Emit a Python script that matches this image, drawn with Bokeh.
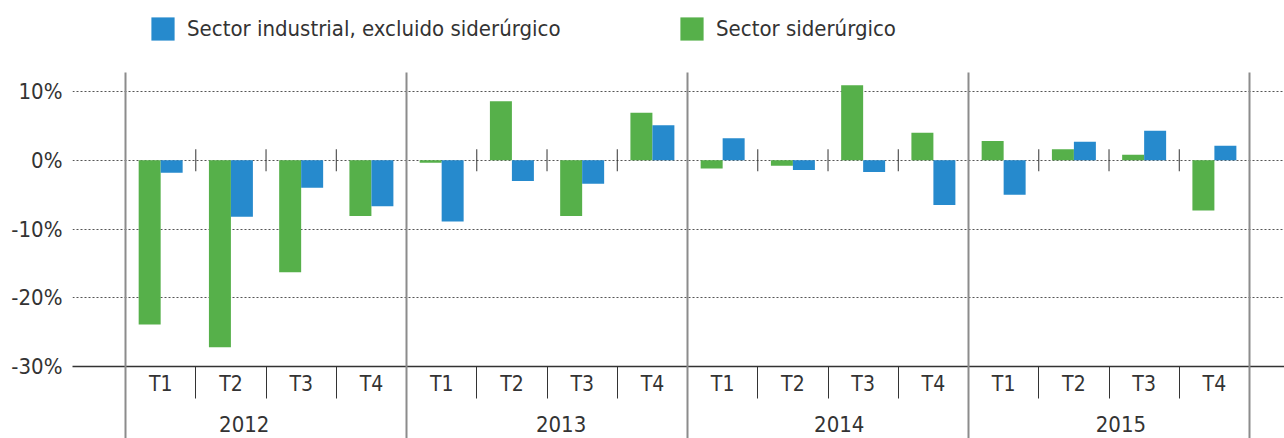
import numpy as np
from bokeh.plotting import figure
from bokeh.models import (Range1d, FixedTicker, LinearAxis, PrintfTickFormatter, Legend,
                          LegendItem, Grid, CustomJSTickFormatter)
from bokeh.embed import file_html
from bokeh.resources import INLINE
from bokeh.core.properties import value

# ---- data ----
years = ["2012", "2013", "2014", "2015"]
quarters = ["T1", "T2", "T3", "T4"]
sector_siderurgico = [-23.9, -27.2, -16.3, -8.1,
                      -0.35, 8.6, -8.1, 6.9,
                      -1.2, -0.8, 10.9, 4.0,
                      2.8, 1.6, 0.8, -7.3]
sector_industrial = [-1.8, -8.2, -4.0, -6.7,
                     -8.9, -3.0, -3.4, 5.1,
                     3.2, -1.4, -1.7, -6.5,
                     -5.0, 2.7, 4.3, 2.1]
y_ticks = [-30, -20, -10, 0, 10]
series_names = ["Sector industrial, excluido siderúrgico", "Sector siderúrgico"]

# ---- style ----
GREEN = "#56B04A"
BLUE = "#268ACD"
TEXT = "#333333"
YEARLINE = "#8c8c8c"
FONT = "'DejaVu Sans Condensed', Roboto, sans-serif"
year_label_shift = [-0.31, 0.2, 0.16, 0.17]

nq = len(quarters)
n = len(years) * nq
centers = np.arange(n) + 0.5
bar_w = 0.313

p = figure(width=1284, height=438,
           x_range=Range1d(-0.755, 16.498), y_range=Range1d(-30, 23.24),
           output_backend="svg", toolbar_location=None,
           x_axis_location=None, y_axis_location=None,
           min_border_left=72, min_border_right=0, min_border_top=0, min_border_bottom=72)
p.outline_line_color = None
p.center = []
p.background_fill_color = "white"

# y axis
yaxis = LinearAxis(ticker=FixedTicker(ticks=y_ticks), formatter=PrintfTickFormatter(format="%d%%"))
yaxis.axis_line_color = None
yaxis.major_tick_line_color = None
yaxis.minor_tick_line_color = None
yaxis.major_tick_out = 0
yaxis.major_tick_in = 0
yaxis.major_label_standoff = 10
yaxis.major_label_text_font = FONT
yaxis.major_label_text_font_size = "22px"
yaxis.major_label_text_color = TEXT
p.add_layout(yaxis, "left")

grid = Grid(dimension=1, ticker=FixedTicker(ticks=y_ticks))
grid.grid_line_color = "#555555"
grid.grid_line_dash = "2 2"
grid.grid_line_width = 1
p.add_layout(grid)

# bars
r_green = p.vbar(x=centers - bar_w / 2, top=sector_siderurgico, bottom=0, width=bar_w,
                 fill_color=GREEN, line_color=None)
r_blue = p.vbar(x=centers + bar_w / 2, top=sector_industrial, bottom=0, width=bar_w,
                fill_color=BLUE, line_color=None)

# small separators on the zero line between quarters
inner_bounds = [b for b in range(1, n) if b % nq]
p.scatter(x=inner_bounds, y=[0] * len(inner_bounds), marker="dash", angle=np.pi / 2,
          size=22, line_color=TEXT, line_width=1)

# quarter axis
q_axis = LinearAxis(ticker=FixedTicker(ticks=list(centers), minor_ticks=inner_bounds),
                    formatter=CustomJSTickFormatter(args=dict(labels=quarters),
                                                    code="return labels[Math.floor(tick) % 4]"))
q_axis.axis_line_color = TEXT
q_axis.axis_line_width = 1.5
q_axis.major_tick_line_color = None
q_axis.major_tick_out = 0
q_axis.major_tick_in = 0
q_axis.minor_tick_line_color = TEXT
q_axis.minor_tick_line_width = 1
q_axis.minor_tick_out = 32
q_axis.minor_tick_in = 0
q_axis.major_label_standoff = -27
q_axis.major_label_text_font = FONT
q_axis.major_label_text_font_size = "21px"
q_axis.major_label_text_color = TEXT
p.add_layout(q_axis, "below")

# year axis
year_pos = [i * nq + nq / 2 + year_label_shift[i] for i in range(len(years))]
year_bounds = [i * nq for i in range(len(years) + 1)]
yr_axis = LinearAxis(ticker=FixedTicker(ticks=year_pos, minor_ticks=year_bounds),
                     formatter=CustomJSTickFormatter(args=dict(labels=years),
                                                     code="return labels[Math.floor(tick / 4)]"))
yr_axis.axis_line_color = None
yr_axis.major_tick_line_color = None
yr_axis.major_tick_out = 0
yr_axis.major_tick_in = 0
yr_axis.minor_tick_line_color = YEARLINE
yr_axis.minor_tick_line_width = 2
yr_axis.minor_tick_in = 326
yr_axis.minor_tick_out = 40
yr_axis.major_label_standoff = -23
yr_axis.major_label_text_font = FONT
yr_axis.major_label_text_font_size = "22px"
yr_axis.major_label_text_color = TEXT
p.add_layout(yr_axis, "below")

# legends (placed in screen units inside the frame, above the data)
def make_legend(label, renderer, x):
    lg = Legend(items=[LegendItem(label=value(label), renderers=[renderer])],
                location=(x, 323), orientation="horizontal",
                glyph_width=29, glyph_height=29, label_standoff=10,
                padding=0, margin=0, spacing=0,
                border_line_color=None, background_fill_alpha=0)
    lg.label_text_font = FONT
    lg.label_text_font_size = "22px"
    lg.label_text_color = TEXT
    return lg

p.add_layout(make_legend(series_names[0], r_blue, 76))
p.add_layout(make_legend(series_names[1], r_green, 605))

open("out.html", "w").write(file_html(p, INLINE))
